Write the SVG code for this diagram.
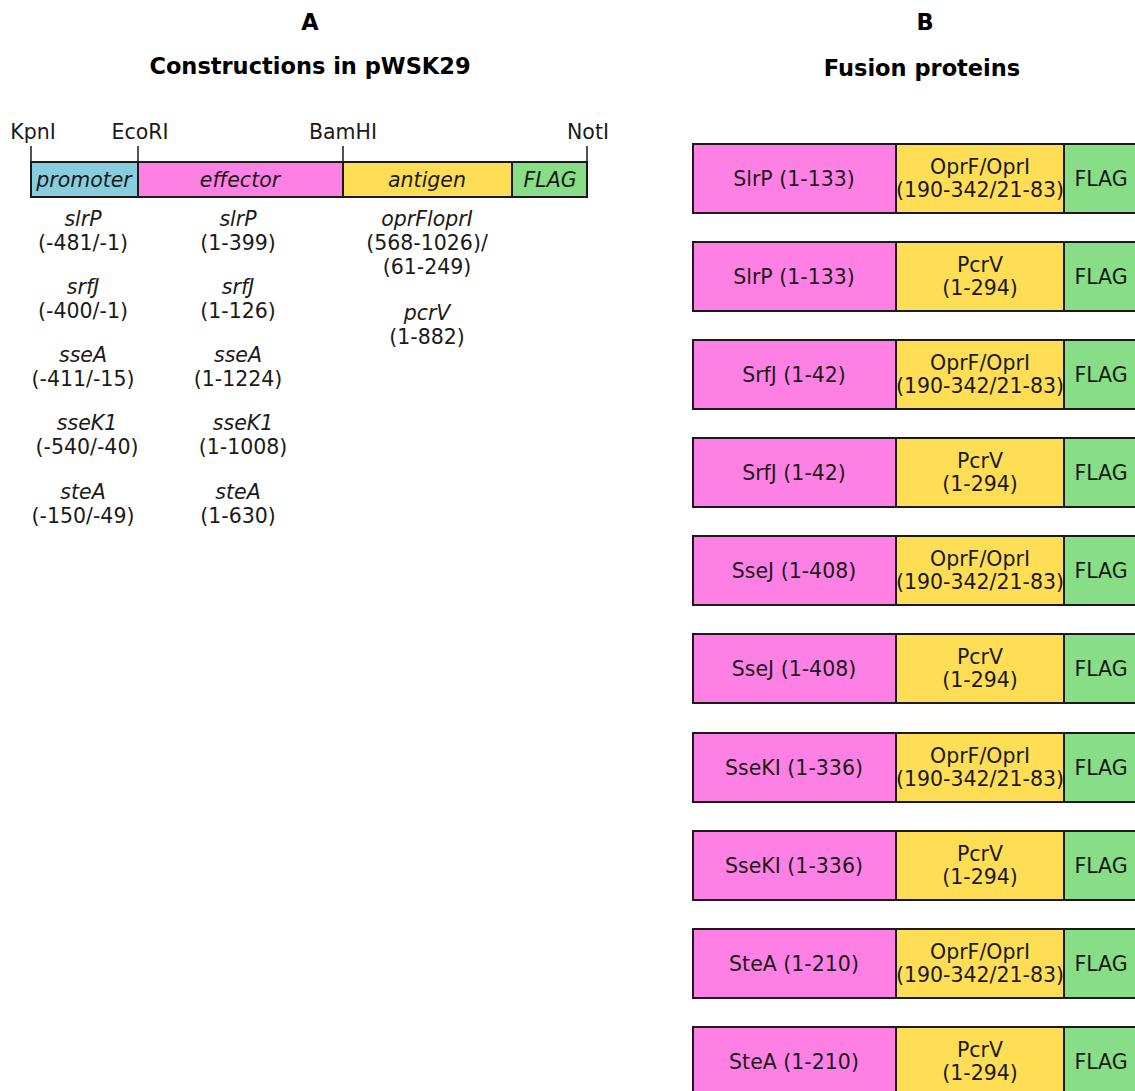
<svg xmlns="http://www.w3.org/2000/svg" width="1135" height="1091" viewBox="0 0 1135 1091">
  <style>
    text { font-family: "DejaVu Sans", sans-serif; fill: #1a1a1a; text-anchor: middle; }
    .title { font-weight: bold; font-size: 22.5px; fill: #000; }
    .site { font-size: 20.5px; }
    .seg { font-size: 20.5px; font-style: italic; }
    .gene { font-size: 20.5px; font-style: italic; }
    .num { font-size: 20.5px; }
    .lbl { font-size: 20.5px; }
    .box { stroke: #1a1a1a; stroke-width: 2; }
    .tick { stroke: #1a1a1a; stroke-width: 1.5; }
    .prom { fill: #87cdde; }
    .eff { fill: #ff80e5; }
    .ant { fill: #ffdd55; }
    .flag { fill: #87de87; }
  </style>
  <rect width="1135" height="1091" fill="#ffffff"/>

  <!-- Panel A: construct map -->
  <g id="panelA">
    <text class="title" x="310" y="30">A</text>
    <text class="title" x="310" y="74">Constructions in pWSK29</text>

    <g id="sites">
      <line class="tick" x1="31" y1="146" x2="31" y2="162"/>
      <line class="tick" x1="138" y1="146" x2="138" y2="162"/>
      <line class="tick" x1="343" y1="146" x2="343" y2="162"/>
      <line class="tick" x1="587" y1="146" x2="587" y2="162"/>
      <text class="site" x="33" y="139">KpnI</text>
      <text class="site" x="140" y="139">EcoRI</text>
      <text class="site" x="343" y="139">BamHI</text>
      <text class="site" x="588" y="139">NotI</text>
    </g>

    <g id="promoter">
      <rect class="box prom" x="31" y="162" width="107" height="35"/>
      <text class="seg" x="84" y="187">promoter</text>
    </g>
    <g id="effector">
      <rect class="box eff" x="138" y="162" width="205" height="35"/>
      <text class="seg" x="240" y="187">effector</text>
    </g>
    <g id="antigen">
      <rect class="box ant" x="343" y="162" width="169" height="35"/>
      <text class="seg" x="427" y="187">antigen</text>
    </g>
    <g id="flagA">
      <rect class="box flag" x="512" y="162" width="75" height="35"/>
      <text class="seg" x="550" y="187">FLAG</text>
    </g>

    <!-- promoter fragments -->
    <g id="promoterList">
      <text class="gene" x="83" y="226">slrP</text>
      <text class="num" x="83" y="250">(-481/-1)</text>
      <text class="gene" x="83" y="294">srfJ</text>
      <text class="num" x="83" y="318">(-400/-1)</text>
      <text class="gene" x="83" y="362">sseA</text>
      <text class="num" x="83" y="386">(-411/-15)</text>
      <text class="gene" x="87" y="430">sseK1</text>
      <text class="num" x="87" y="454">(-540/-40)</text>
      <text class="gene" x="83" y="499">steA</text>
      <text class="num" x="83" y="523">(-150/-49)</text>
    </g>

    <!-- effector fragments -->
    <g id="effectorList">
      <text class="gene" x="238" y="226">slrP</text>
      <text class="num" x="238" y="250">(1-399)</text>
      <text class="gene" x="238" y="294">srfJ</text>
      <text class="num" x="238" y="318">(1-126)</text>
      <text class="gene" x="238" y="362">sseA</text>
      <text class="num" x="238" y="386">(1-1224)</text>
      <text class="gene" x="243" y="430">sseK1</text>
      <text class="num" x="243" y="454">(1-1008)</text>
      <text class="gene" x="238" y="499">steA</text>
      <text class="num" x="238" y="523">(1-630)</text>
    </g>

    <!-- antigen fragments -->
    <g id="antigenList">
      <text class="gene" x="427" y="226">oprFloprI</text>
      <text class="num" x="427" y="250">(568-1026)/</text>
      <text class="num" x="427" y="274">(61-249)</text>
      <text class="gene" x="427" y="320">pcrV</text>
      <text class="num" x="427" y="344">(1-882)</text>
    </g>
  </g>

  <!-- Panel B: fusion proteins -->
  <g id="panelB">
    <text class="title" x="925" y="30">B</text>
    <text class="title" x="922" y="76">Fusion proteins</text>
  </g>

  <defs>
    <!-- two antigen variants -->
    <g id="antOpr">
      <rect class="box ant" x="896" y="0" width="168" height="69"/>
      <text class="lbl" x="980" y="30">OprF/OprI</text>
      <text class="lbl" x="980" y="53">(190-342/21-83)</text>
    </g>
    <g id="antPcr">
      <rect class="box ant" x="896" y="0" width="168" height="69"/>
      <text class="lbl" x="980" y="30">PcrV</text>
      <text class="lbl" x="980" y="53">(1-294)</text>
    </g>
    <g id="flagB">
      <rect class="box flag" x="1064" y="0" width="80" height="69"/>
      <text class="lbl" x="1101" y="42">FLAG</text>
    </g>
  </defs>

  <g id="fusion1" transform="translate(0,144)">
    <rect class="box eff" x="693" y="0" width="203" height="69"/>
    <text class="lbl" x="794" y="42">SlrP (1-133)</text>
    <use href="#antOpr"/><use href="#flagB"/>
  </g>
  <g id="fusion2" transform="translate(0,242)">
    <rect class="box eff" x="693" y="0" width="203" height="69"/>
    <text class="lbl" x="794" y="42">SlrP (1-133)</text>
    <use href="#antPcr"/><use href="#flagB"/>
  </g>
  <g id="fusion3" transform="translate(0,340)">
    <rect class="box eff" x="693" y="0" width="203" height="69"/>
    <text class="lbl" x="794" y="42">SrfJ (1-42)</text>
    <use href="#antOpr"/><use href="#flagB"/>
  </g>
  <g id="fusion4" transform="translate(0,438)">
    <rect class="box eff" x="693" y="0" width="203" height="69"/>
    <text class="lbl" x="794" y="42">SrfJ (1-42)</text>
    <use href="#antPcr"/><use href="#flagB"/>
  </g>
  <g id="fusion5" transform="translate(0,536)">
    <rect class="box eff" x="693" y="0" width="203" height="69"/>
    <text class="lbl" x="794" y="42">SseJ (1-408)</text>
    <use href="#antOpr"/><use href="#flagB"/>
  </g>
  <g id="fusion6" transform="translate(0,634)">
    <rect class="box eff" x="693" y="0" width="203" height="69"/>
    <text class="lbl" x="794" y="42">SseJ (1-408)</text>
    <use href="#antPcr"/><use href="#flagB"/>
  </g>
  <g id="fusion7" transform="translate(0,733)">
    <rect class="box eff" x="693" y="0" width="203" height="69"/>
    <text class="lbl" x="794" y="42">SseKI (1-336)</text>
    <use href="#antOpr"/><use href="#flagB"/>
  </g>
  <g id="fusion8" transform="translate(0,831)">
    <rect class="box eff" x="693" y="0" width="203" height="69"/>
    <text class="lbl" x="794" y="42">SseKI (1-336)</text>
    <use href="#antPcr"/><use href="#flagB"/>
  </g>
  <g id="fusion9" transform="translate(0,929)">
    <rect class="box eff" x="693" y="0" width="203" height="69"/>
    <text class="lbl" x="794" y="42">SteA (1-210)</text>
    <use href="#antOpr"/><use href="#flagB"/>
  </g>
  <g id="fusion10" transform="translate(0,1027)">
    <rect class="box eff" x="693" y="0" width="203" height="69"/>
    <text class="lbl" x="794" y="42">SteA (1-210)</text>
    <use href="#antPcr"/><use href="#flagB"/>
  </g>
</svg>
